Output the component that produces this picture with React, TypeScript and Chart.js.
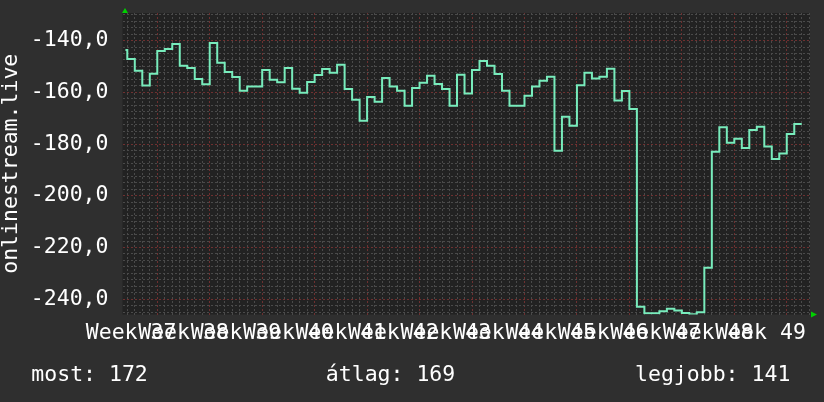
import React, { useEffect, useRef } from 'react';
import { Chart, registerables } from 'chart.js';

Chart.register(...registerables);

// ---- data ----
const WEEK_LABELS = [
  'Week 37', 'Week 38', 'Week 39', 'Week 40', 'Week 41', 'Week 42', 'Week 43',
  'Week 44', 'Week 45', 'Week 46', 'Week 47', 'Week 48', 'Week 49',
];
const WEEK_LABEL_DAYS = [-3.5, 3.5, 10.5, 17.5, 24.5, 31.5, 38.5, 45.5, 52.5, 59.5, 66.5, 73.5, 80.5];
const WEEK_BOUNDARY_DAYS = [0, 7, 14, 21, 28, 35, 42, 49, 56, 63, 70, 77, 84];

const FIRST_DAY = -5;            // day index of the first value
const FIRST_VISIBLE_DAY = -4.25; // series starts part-way into the first day
const DAILY_VALUES = [
  -143.7, -147.1, -151.7, -157.4, -152.8,
  -144.0, -143.3, -141.3, -149.7, -150.6, -154.9, -156.9,
  -140.9, -148.6, -152.2, -154.1, -159.4, -157.8, -157.8,
  -151.4, -155.2, -156.1, -150.6, -158.6, -160.2, -156.0,
  -153.3, -151.0, -152.4, -149.4, -158.7, -162.9, -171.0,
  -161.8, -163.7, -154.5, -157.8, -159.4, -165.2, -158.3,
  -156.3, -153.6, -156.8, -158.7, -165.2, -153.2, -160.5,
  -151.4, -147.9, -149.7, -152.9, -159.4, -165.2, -165.2,
  -161.3, -157.8, -155.5, -154.0, -182.6, -169.5, -172.9,
  -157.3, -152.4, -154.7, -154.0, -150.9, -163.2, -159.5,
  -166.5, -242.9, -245.4, -245.4, -244.6, -243.7, -244.4,
  -245.3, -245.8, -245.0, -227.8, -183.0, -173.5, -179.5,
  -178.0, -181.5, -174.6, -173.3, -181.0, -185.8, -183.7,
  -176.1, -172.3,
];

const Y_MIN = -245.9;
const Y_MAX = -129.35;
const X_MIN = -4.64;
const X_MAX = 87.1;
const Y_MAJOR_STEP = 20;
const Y_MINOR_STEP = 2.5;

const AXIS_TITLE = 'onlinestream.live';
const STAT_LABELS = ['most', 'átlag', 'legjobb'];
const STAT_VALUES = [172, 169, 141];

// ---- styles ----
const FONT = 'DejaVu Sans Mono';
const OUTER_BG = '#2f2f2f';
const PLOT_BG = '#222222';
const MINOR_GRID = '#4a4a4a';
const MAJOR_GRID = '#6e3030';
const LINE_COLOR = '#78ecbc';
const ARROW = '#00d000';
const TEXT = '#ffffff';

const isHalf = (v: number) => Math.abs(v - Math.round(v)) > 0.1;

export default function App() {
  const ref = useRef<HTMLCanvasElement | null>(null);

  useEffect(() => {
    if (!ref.current) return;

    const points: { x: number; y: number }[] = DAILY_VALUES.map((v, i) => ({
      x: i === 0 ? FIRST_VISIBLE_DAY : FIRST_DAY + i,
      y: v,
    }));
    points.push({ x: FIRST_DAY + DAILY_VALUES.length, y: DAILY_VALUES[DAILY_VALUES.length - 1] });

    const bgPlugin = {
      id: 'plotBg',
      beforeDraw(chart: any) {
        const { ctx, chartArea: a } = chart;
        ctx.save();
        ctx.fillStyle = PLOT_BG;
        ctx.fillRect(a.left, a.top, a.right - a.left, a.bottom - a.top);
        ctx.restore();
      },
    };
    const arrowPlugin = {
      id: 'arrows',
      afterDraw(chart: any) {
        const { ctx, chartArea: a } = chart;
        ctx.save();
        ctx.fillStyle = ARROW;
        const cx = a.left + 2.5;
        ctx.beginPath();
        ctx.moveTo(cx - 3, a.top);
        ctx.lineTo(cx + 3, a.top);
        ctx.lineTo(cx, a.top - 5);
        ctx.closePath();
        ctx.fill();
        const cy = a.bottom;
        ctx.beginPath();
        ctx.moveTo(a.right + 1, cy - 3);
        ctx.lineTo(a.right + 1, cy + 3);
        ctx.lineTo(a.right + 7, cy);
        ctx.closePath();
        ctx.fill();
        ctx.restore();
      },
    };

    const xTicks: number[] = [];
    for (let d = Math.ceil(X_MIN); d <= Math.floor(X_MAX); d++) xTicks.push(d);
    WEEK_LABEL_DAYS.forEach((d) => xTicks.push(d));
    xTicks.sort((a, b) => a - b);

    const yTicks: number[] = [];
    for (let v = Math.ceil(Y_MIN / Y_MINOR_STEP) * Y_MINOR_STEP; v <= Y_MAX; v += Y_MINOR_STEP) yTicks.push(v);

    const isMajorY = (v: number) => Math.abs(v / Y_MAJOR_STEP - Math.round(v / Y_MAJOR_STEP)) < 1e-6;

    const chart = new Chart(ref.current, {
      type: 'line',
      data: {
        datasets: [
          {
            data: points,
            borderColor: LINE_COLOR,
            borderWidth: 2,
            pointRadius: 0,
            stepped: 'before',
            fill: false,
            tension: 0,
          },
        ],
      },
      options: {
        responsive: false,
        animation: false,
        devicePixelRatio: 1,
        layout: { padding: { left: 0, top: 13, right: 14, bottom: 47.5 } },
        plugins: { legend: { display: false }, tooltip: { enabled: false } },
        scales: {
          x: {
            type: 'linear',
            min: X_MIN,
            max: X_MAX,
            afterBuildTicks: (s: any) => {
              s.ticks = xTicks.map((v) => ({ value: v }));
            },
            afterFit: (s: any) => {
              s.height = 40;
              s.paddingLeft = 0;
              s.paddingRight = 0;
            },
            grid: {
              drawTicks: false,
              color: (c: any) => {
                const v = c.tick ? c.tick.value : 0;
                if (isHalf(v)) return 'rgba(0,0,0,0)';
                return WEEK_BOUNDARY_DAYS.includes(Math.round(v)) ? MAJOR_GRID : MINOR_GRID;
              },
              lineWidth: (c: any) => (c.tick && isHalf(c.tick.value) ? 0 : 1),
            },
            border: { display: false, dash: [2, 2] },
            ticks: {
              autoSkip: false,
              maxRotation: 0,
              minRotation: 0,
              padding: 6,
              color: TEXT,
              font: { family: FONT, size: 21.5, lineHeight: 1.2 },
              callback: (value: any) => {
                const v = Number(value);
                const idx = WEEK_LABEL_DAYS.findIndex((d) => Math.abs(d - v) < 0.01);
                return idx >= 0 ? WEEK_LABELS[idx] : '';
              },
            },
          },
          y: {
            type: 'linear',
            min: Y_MIN,
            max: Y_MAX,
            afterBuildTicks: (s: any) => {
              s.ticks = yTicks.map((v) => ({ value: v }));
            },
            afterFit: (s: any) => {
              s.width = 122.5;
              s.paddingTop = 0;
              s.paddingBottom = 0;
            },
            grid: {
              drawTicks: false,
              color: (c: any) => (c.tick && isMajorY(c.tick.value) ? MAJOR_GRID : MINOR_GRID),
              lineWidth: 1,
            },
            border: { display: false, dash: [2, 2] },
            title: {
              display: true,
              text: AXIS_TITLE,
              color: TEXT,
              padding: 0,
              font: { family: FONT, size: 21.5, lineHeight: 1.1 },
            },
            ticks: {
              autoSkip: false,
              padding: 14,
              color: TEXT,
              font: { family: FONT, size: 21.5, lineHeight: 1.2 },
              callback: (value: any) => {
                const v = Number(value);
                return isMajorY(v) ? v.toFixed(1).replace('.', ',') : '';
              },
            },
          },
        },
      },
      plugins: [bgPlugin, arrowPlugin],
    } as any);

    return () => chart.destroy();
  }, []);

  const statLeft = [31.3, 325.8, 635];

  return (
    <div
      style={{
        position: 'absolute',
        left: 0,
        top: 0,
        width: 824,
        height: 402,
        background: OUTER_BG,
        overflow: 'hidden',
      }}
    >
      <canvas ref={ref} width={824} height={402} style={{ position: 'absolute', left: 0, top: 0, width: 824, height: 402 }} />
      {STAT_LABELS.map((l, i) => (
        <span
          key={l}
          style={{
            position: 'absolute',
            left: statLeft[i],
            top: 360.5,
            fontFamily: FONT,
            fontSize: 21.5,
            lineHeight: '26px',
            color: TEXT,
            whiteSpace: 'pre',
          }}
        >
          {`${l}: ${STAT_VALUES[i]}`}
        </span>
      ))}
    </div>
  );
}
